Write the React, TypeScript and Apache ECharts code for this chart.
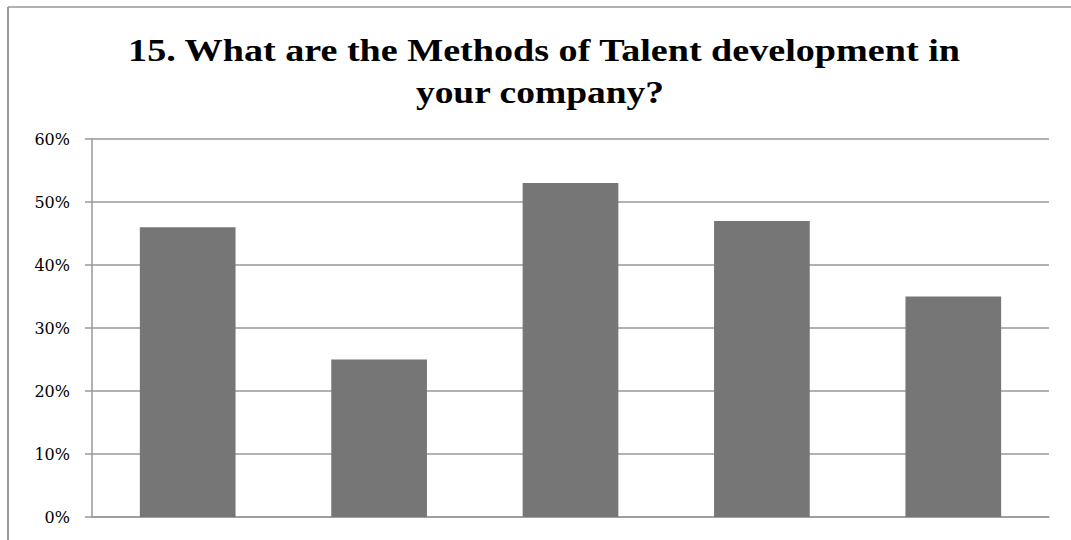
import React, { useEffect, useRef } from "react";
import * as echarts from "echarts";

const categories = ["Method 1", "Method 2", "Method 3", "Method 4", "Method 5"];
const values = [0.46, 0.25, 0.53, 0.47, 0.35];
const titleLines = ["15. What are the Methods of Talent development in", "your company?"];

export default function App() {
  const ref = useRef<HTMLDivElement>(null);
  useEffect(() => {
    if (!ref.current) return;
    const chart = echarts.init(ref.current, undefined, { renderer: "svg" });
    const titleStyle = {
      fontFamily: "Liberation Serif",
      fontWeight: "bold",
      fontSize: 31,
      fill: "#000000",
      align: "center",
      verticalAlign: "middle",
    };
    chart.setOption({
      animation: false,
      backgroundColor: "#ffffff",
      graphic: [
        { type: "line", shape: { x1: 8, y1: 7, x2: 8, y2: 540 }, style: { stroke: "#999999", lineWidth: 2 } },
        { type: "line", shape: { x1: 8, y1: 7, x2: 1071, y2: 7 }, style: { stroke: "#999999", lineWidth: 1.5 } },
        {
          type: "text",
          x: 544,
          y: 51,
          scaleX: 1.23,
          style: { ...titleStyle, text: titleLines[0] },
        },
        {
          type: "text",
          x: 540,
          y: 92,
          scaleX: 1.21,
          style: { ...titleStyle, text: titleLines[1] },
        },
      ],
      grid: { left: 92, right: 22, top: 139, bottom: 23, containLabel: false },
      xAxis: {
        type: "category",
        data: categories,
        axisLine: { show: true, lineStyle: { color: "#999999", width: 1.5 } },
        axisTick: { show: false },
        axisLabel: { show: false },
      },
      yAxis: {
        type: "value",
        min: 0,
        max: 0.6,
        interval: 0.1,
        axisLine: { show: true, lineStyle: { color: "#999999", width: 1.5 } },
        axisTick: { show: true, length: 7, lineStyle: { color: "#999999", width: 1.5 } },
        splitLine: { show: true, lineStyle: { color: "#999999", width: 1.5 } },
        axisLabel: {
          formatter: (v: number) => Math.round(v * 100) + "%",
          fontFamily: "DejaVu Serif",
          fontSize: 16,
          color: "#000000",
          margin: 22,
        },
      },
      series: [
        {
          type: "bar",
          data: values,
          barWidth: "50%",
          itemStyle: { color: "#767676" },
        },
      ],
    });
    return () => chart.dispose();
  }, []);
  return (
    <div
      ref={ref}
      style={{ position: "absolute", left: 0, top: 0, width: 1071, height: 540 }}
    />
  );
}
